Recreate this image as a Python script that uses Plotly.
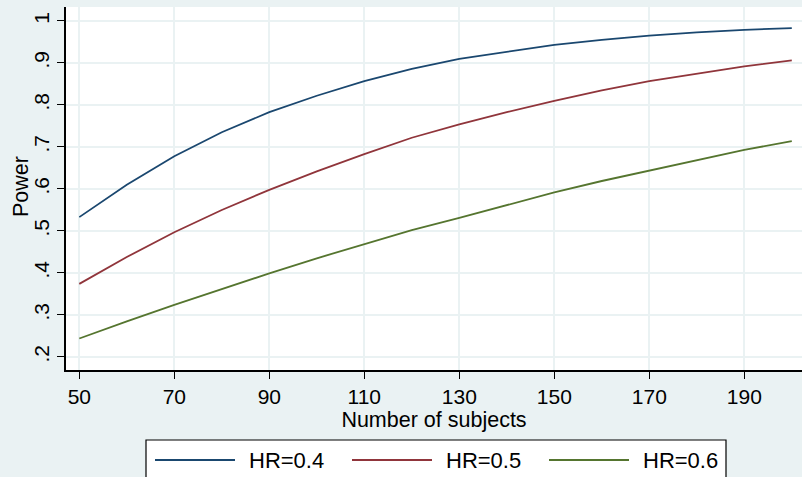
import plotly.graph_objects as go

# Sample sizes and estimated power for three hazard ratios
subjects = [50, 60, 70, 80, 90, 100, 110, 120, 130, 140, 150, 160, 170, 180, 190, 200]
power_hr04 = [0.533, 0.610, 0.678, 0.735, 0.783, 0.822, 0.857, 0.886,
              0.910, 0.927, 0.943, 0.955, 0.965, 0.973, 0.979, 0.983]
power_hr05 = [0.374, 0.438, 0.497, 0.550, 0.598, 0.642, 0.683, 0.722,
              0.754, 0.783, 0.810, 0.835, 0.857, 0.875, 0.892, 0.906]
power_hr06 = [0.244, 0.285, 0.324, 0.362, 0.399, 0.435, 0.468, 0.502,
              0.531, 0.562, 0.592, 0.619, 0.644, 0.669, 0.693, 0.714]

series_names = ["HR=0.4", "HR=0.5", "HR=0.6"]
series_values = [power_hr04, power_hr05, power_hr06]
series_colors = ["#1a476f", "#90353b", "#55752f"]

x_ticks = [50, 70, 90, 110, 130, 150, 170, 190]
y_ticks = [0.2, 0.3, 0.4, 0.5, 0.6, 0.7, 0.8, 0.9, 1.0]
y_ticktext = [".2", ".3", ".4", ".5", ".6", ".7", ".8", ".9", "1"]

W, H = 802, 477
M_L, M_R, M_T, M_B = 66, 0, 7, 107
BG = "#eaf2f3"
FONT = "Liberation Sans, Arial, sans-serif"

fig = go.Figure()
for name, vals, col in zip(series_names, series_values, series_colors):
    fig.add_trace(go.Scatter(x=subjects, y=vals, mode="lines", name=name,
                             line=dict(color=col, width=1.8), showlegend=False))

fig.update_layout(
    width=W, height=H,
    margin=dict(l=M_L, r=M_R, t=M_T, b=M_B, pad=0),
    paper_bgcolor=BG, plot_bgcolor="white",
    font=dict(family=FONT, size=21, color="#000"),
)
fig.update_xaxes(
    range=[47.2, 202.15], tickvals=x_ticks, ticks="outside", ticklen=7,
    tickwidth=1.3, tickcolor="#000", showline=True, linecolor="#000",
    linewidth=1.5, showgrid=True, gridcolor=BG, gridwidth=1.6, zeroline=False,
    tickfont=dict(size=21),
    title=dict(text="Number of subjects", font=dict(size=21.5), standoff=0),
)
fig.update_yaxes(
    range=[0.169, 1.0333], tickvals=y_ticks, ticktext=y_ticktext,
    tickangle=-90, ticks="outside", ticklen=7, tickwidth=1.3, tickcolor="#000",
    showline=True, linecolor="#000", linewidth=1.5, showgrid=True,
    gridcolor=BG, gridwidth=1.6, zeroline=False, tickfont=dict(size=21),
)

plot_w = W - M_L - M_R
plot_h = H - M_T - M_B


def px_x(px):
    return (px - M_L) / plot_w


def px_y(py):
    return (H - M_B - py) / plot_h


# Vertical axis title
fig.add_annotation(xref="paper", yref="paper", x=px_x(21), y=px_y(187),
                   text="Power", showarrow=False, textangle=-90,
                   xanchor="center", yanchor="middle",
                   font=dict(size=21.5, family=FONT, color="#000"))

# Legend box drawn below the plot area
fig.add_shape(type="rect", xref="paper", yref="paper",
              x0=px_x(146), x1=px_x(726), y0=px_y(485), y1=px_y(440),
              line=dict(color="#000", width=1.2), fillcolor="white", layer="below")
sample_left = [155, 352, 549]
for name, col, left in zip(series_names, series_colors, sample_left):
    fig.add_shape(type="line", xref="paper", yref="paper",
                  x0=px_x(left), x1=px_x(left + 80), y0=px_y(460), y1=px_y(460),
                  line=dict(color=col, width=1.8))
    fig.add_annotation(xref="paper", yref="paper", x=px_x(left + 92), y=px_y(460),
                       text=name, showarrow=False, xanchor="left", yanchor="middle",
                       font=dict(size=22, family=FONT, color="#000"))

fig.write_html("out.html")
